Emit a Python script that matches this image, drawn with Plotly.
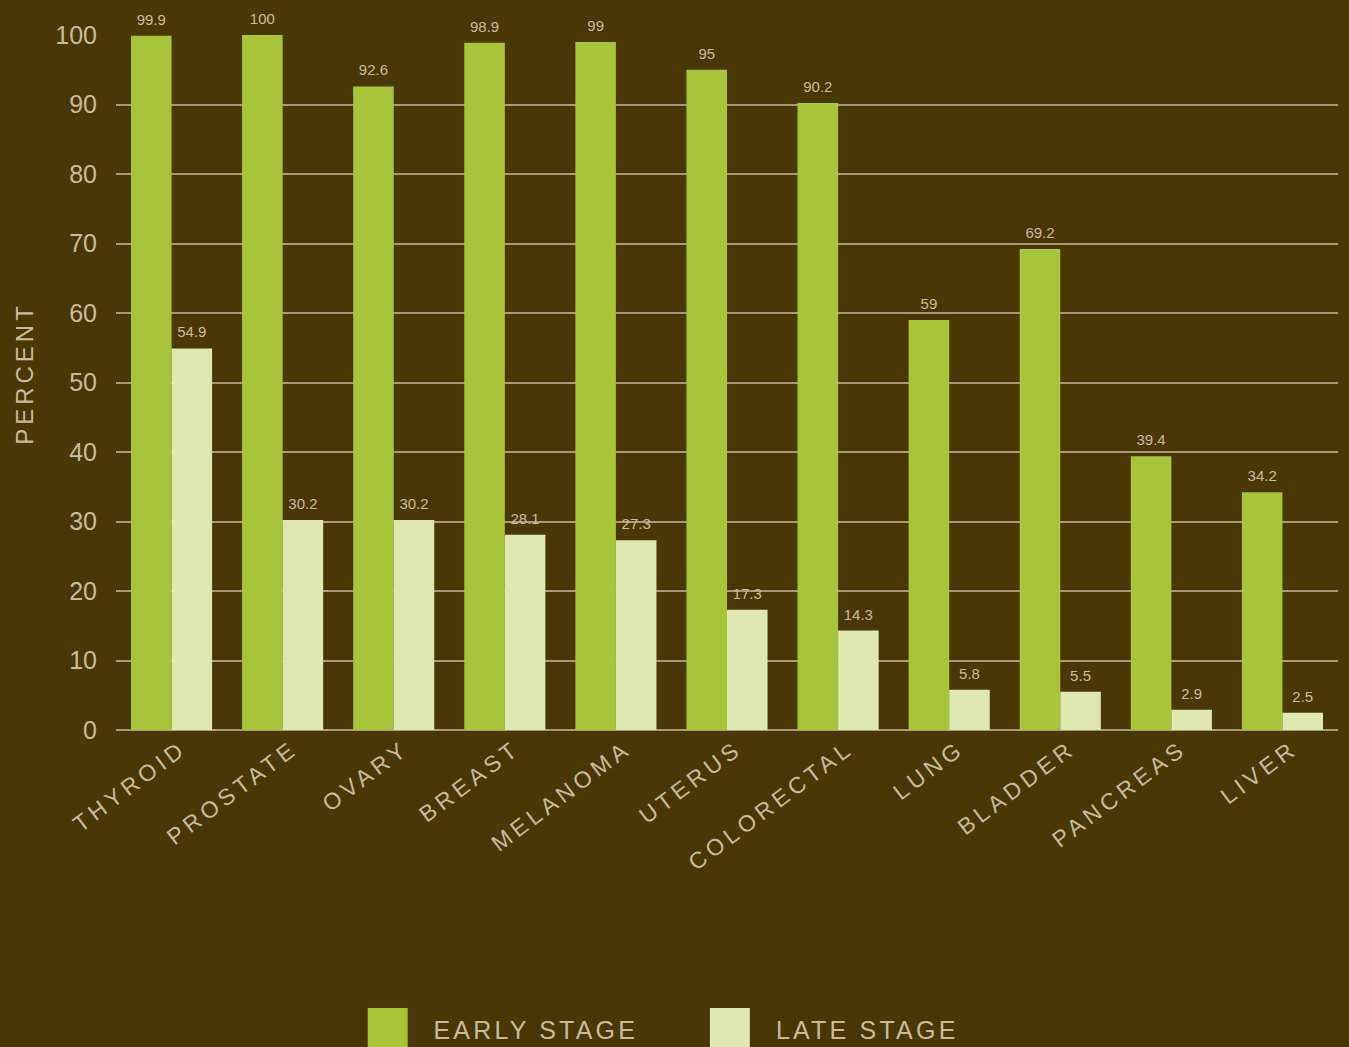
import plotly.graph_objects as go

categories = ["THYROID", "PROSTATE", "OVARY", "BREAST", "MELANOMA", "UTERUS",
              "COLORECTAL", "LUNG", "BLADDER", "PANCREAS", "LIVER"]
early_stage = [99.9, 100, 92.6, 98.9, 99, 95, 90.2, 59, 69.2, 39.4, 34.2]
late_stage = [54.9, 30.2, 30.2, 28.1, 27.3, 17.3, 14.3, 5.8, 5.5, 2.9, 2.5]
y_ticks = [0, 10, 20, 30, 40, 50, 60, 70, 80, 90, 100]

BG = "#4a3706"
TXT = "#c8bb9c"
GRID = "#a8997a"
EARLY_C = "#a8c43a"
LATE_C = "#dfe8b0"
FONT = "Liberation Sans, Arial, sans-serif"

fig = go.Figure()
fig.add_trace(go.Bar(
    x=categories, y=early_stage, name="EARLY STAGE", marker_color=EARLY_C,
    marker_line_width=0, texttemplate="%{y}", textposition="outside",
    textfont=dict(size=15, color=TXT, family=FONT), cliponaxis=False, constraintext="none",
    showlegend=False))
fig.add_trace(go.Bar(
    x=categories, y=late_stage, name="LATE STAGE", marker_color=LATE_C,
    marker_line_width=0, texttemplate="%{y}", textposition="outside",
    textfont=dict(size=15, color=TXT, family=FONT), cliponaxis=False, constraintext="none",
    showlegend=False))

# custom legend (large swatches, as in reference)
legend_items = [("EARLY STAGE", EARLY_C, 0.206), ("LATE STAGE", LATE_C, 0.486)]
for name, col, x0 in legend_items:
    fig.add_shape(type="rect", xref="paper", yref="paper", x0=x0, x1=x0 + 0.0327,
                  y0=-0.47, y1=-0.4, fillcolor=col, line_width=0, layer="above")
    fig.add_annotation(xref="paper", yref="paper", x=x0 + 0.0525, y=-0.431,
                       xshift=len(name) * 1.6,
                       text=name, showarrow=False, xanchor="left", yanchor="middle",
                       font=dict(size=25, color=TXT, family=FONT))

fig.update_layout(
    width=1349, height=1047,
    paper_bgcolor=BG, plot_bgcolor=BG,
    margin=dict(l=116, r=11, t=35, b=317),
    barmode="group", bargap=0.27, bargroupgap=0,
    font=dict(family=FONT, color=TXT),
    showlegend=False,
    xaxis=dict(tickangle=-37, tickfont=dict(size=23, color=TXT, family=FONT),
               showgrid=False, showline=False, ticks="", ticklabelshift=10),
    yaxis=dict(range=[0, 100], tickvals=y_ticks, tickfont=dict(size=25, color=TXT, family=FONT),
               showgrid=True, gridcolor=GRID, gridwidth=1.5,
               zeroline=True, zerolinecolor=GRID, zerolinewidth=2,
               title=dict(text="PERCENT", font=dict(size=24, color=TXT, family=FONT), standoff=14),
               ticks="", ticklabelstandoff=18),
)

post = """
document.body.style.margin='0px';
document.querySelectorAll('.xtick text').forEach(function(t){t.style.letterSpacing='4.5px';});
document.querySelectorAll('.ytitle').forEach(function(t){
  t.style.letterSpacing='4px';
  t.setAttribute('transform', 'translate(0,-9) ' + (t.getAttribute('transform') || ''));
});
document.querySelectorAll('.annotation-text').forEach(function(t){t.style.letterSpacing='3.2px';});
document.querySelectorAll('text.bartext').forEach(function(t){
  t.setAttribute('transform', 'translate(0,-5) ' + (t.getAttribute('transform') || ''));
});
"""
fig.write_html("out.html", post_script=post, config={"displayModeBar": False})
